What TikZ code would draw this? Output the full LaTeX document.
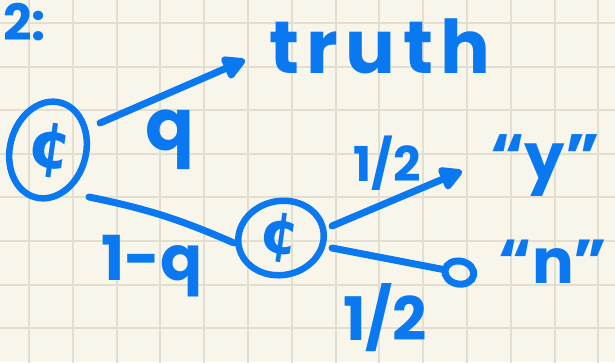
\documentclass[tikz,border=0pt]{standalone}
\usepackage{fontspec}
\setmainfont{Poppins}
\newfontfamily\centfont{DejaVu Sans}
\usetikzlibrary{shapes.geometric,arrows.meta,calc}
\definecolor{paper}{HTML}{F8F6EA}
\definecolor{gridc}{HTML}{E2DFD1}
\definecolor{ink}{HTML}{0A78F0}
\begin{document}
\begin{tikzpicture}[x=1pt,y=-1pt,
  circ/.style={ellipse, draw=ink, line width=6.5pt, inner sep=0pt},
  lbl/.style={text=ink, inner sep=0pt},
  arr/.style={draw=ink, line width=7pt, line cap=round, -{Triangle[length=26pt,width=26pt,round]}},
  ringarr/.style={draw=ink, line width=7pt, line cap=round, -{Circle[open,length=36pt,width=30pt]}},
  plain/.style={draw=ink, line width=7pt, line cap=round}]
\fill[paper] (0,0) rectangle (615,362);
\useasboundingbox (0,0) rectangle (615,362);
\foreach \i in {0,...,13} \draw[gridc, line width=2pt] ({29+43.8*\i},-5) -- ({29+43.8*\i},367);
\foreach \j in {0,...,7} \draw[gridc, line width=2pt] (-5,{23+43.6*\j}) -- (620,{23+43.6*\j});
% nodes
\node[circ, minimum width=76pt, minimum height=98pt, rotate=-15] (lc) at (48,150) {};
\node[lbl, font=\fontsize{64}{64}\selectfont\centfont\bfseries, rotate=-8] (lct) at (50,150) {¢};
\node[circ, minimum width=86pt, minimum height=74pt, rotate=12] (rc) at (281,238) {};
\node[lbl, font=\fontsize{58}{58}\selectfont\centfont\bfseries, rotate=-8] (rct) at (280,238) {¢};
\node[lbl, font=\fontsize{74}{74}\selectfont\bfseries\addfontfeatures{LetterSpace=10}] (truth) at (380,46) {truth};
\node[lbl, font=\fontsize{72}{72}\selectfont\bfseries] (q) at (170,140) {q};
\node[lbl, font=\fontsize{62}{62}\selectfont\bfseries] (omq) at (152,266) {1-q};
\node[lbl, font=\fontsize{48}{48}\selectfont\bfseries] (h1) at (387,163) {1/2};
\node[lbl, font=\fontsize{60}{60}\selectfont\bfseries] (h2) at (385,318) {1/2};
\node[lbl, font=\fontsize{64}{64}\selectfont\bfseries] (y) at (545,166) {“y”};
\node[lbl, font=\fontsize{62}{62}\selectfont\bfseries] (n) at (553,262) {“n”};
\node[lbl, font=\fontsize{50}{50}\selectfont\bfseries, anchor=east] (tl) at (46,22) {2:};
% connectors
\draw[arr] ($(lc)+(52,-27)$) -- ($(truth)+(-135,14)$);
\draw[plain] ($(lc)+(41,47)$) to[bend left=6] ($(rc)+(-47,5)$);
\draw[arr] ($(rc)+(51,-12)$) -- ($(y)+(-83,5)$);
\draw[ringarr] ($(rc)+(51,10)$) -- ($(n)+(-76,14)$);
\end{tikzpicture}
\end{document}
